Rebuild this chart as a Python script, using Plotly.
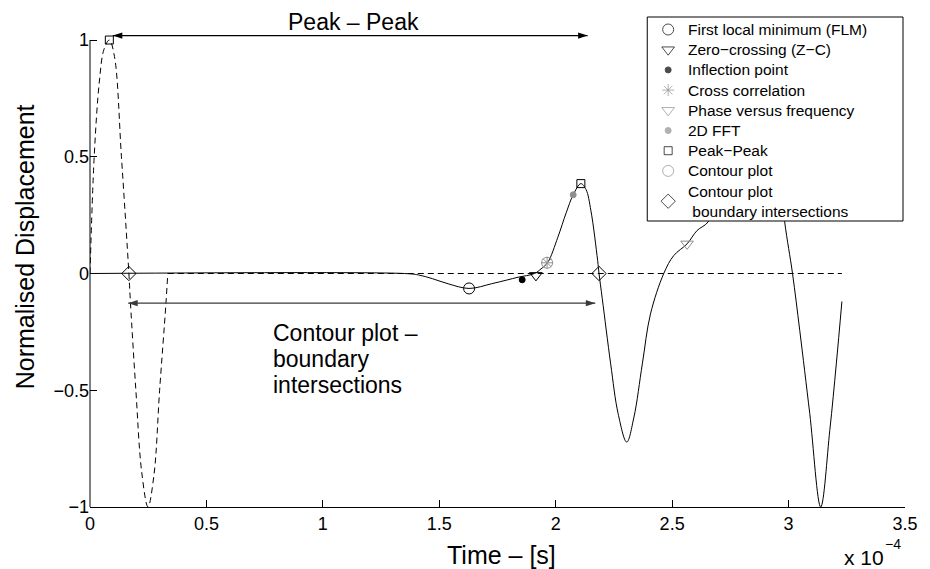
import plotly.graph_objects as go

# ---------------------------------------------------------------- data
# time axis values are in units of 1e-4 s
# incident pulse (dashed): one sine-like cycle, then flat
t_pulse = [0, 0.018, 0.04, 0.06, 0.083, 0.105, 0.135, 0.167, 0.174, 0.197,
           0.222, 0.249, 0.275, 0.299, 0.326, 0.334]
y_pulse = [0, 0.5, 0.82, 0.96, 1.0, 0.93, 0.5, 0.0, -0.13, -0.5,
           -0.85, -1.0, -0.86, -0.5, -0.13, 0.0]
t_pulse_flat = [0.334, 3.229]
y_pulse_flat = [0.0, 0.0]

# received signal (solid)
t_recv = [0, 1.35, 1.41, 1.47, 1.538, 1.628, 1.724, 1.79, 1.838, 1.909,
          1.937, 1.966, 2.009, 2.045, 2.075, 2.108, 2.13, 2.151, 2.18, 2.186,
          2.20, 2.236, 2.268, 2.305, 2.336, 2.372, 2.407, 2.464, 2.507, 2.564,
          2.607, 2.656, 2.72, 2.79, 2.86, 2.93, 2.983, 3.017, 3.048, 3.091,
          3.138, 3.177, 3.205, 3.229]
y_recv = [0, 0, -0.006, -0.022, -0.044, -0.064, -0.044, -0.028, -0.016, 0.0,
          0.02, 0.048, 0.155, 0.26, 0.337, 0.385, 0.36, 0.27, 0.056, 0.0,
          -0.108, -0.387, -0.60, -0.722, -0.615, -0.387, -0.173, 0.0, 0.077, 0.127,
          0.184, 0.223, 0.42, 0.75, 0.9, 0.7, 0.223, 0.0, -0.244, -0.60,
          -1.0, -0.672, -0.387, -0.12]

# arrival-time picks of each method
flm_t, flm_y = [1.628], [-0.064]
zc_t, zc_y = [1.915], [-0.008]
infl_t, infl_y = [1.856], [-0.027]
xcorr_t, xcorr_y = [1.963], [0.046]
phase_t, phase_y = [2.564], [0.127]
fft_t, fft_y = [2.075], [0.337]
pp_t, pp_y = [0.083, 2.108], [1.0, 0.385]
contour_t, contour_y = [1.963], [0.046]
cbi_t, cbi_y = [0.167, 2.186], [0.0, 0.0]

# double-headed arrows spanning the two travel-time estimates
pp_arrow_t, pp_arrow_y = [0.098, 2.137], [1.019, 1.019]
cbi_arrow_t, cbi_arrow_y = [0.164, 2.17], [-0.127, -0.127]

x_ticks = [0, 0.5, 1, 1.5, 2, 2.5, 3, 3.5]
x_ticktext = ["0", "0.5", "1", "1.5", "2", "2.5", "3", "3.5"]
y_ticks = [-1, -0.5, 0, 0.5, 1]
y_ticktext = ["\u22121", "\u22120.5", "0", "0.5", "1"]

# ---------------------------------------------------------------- style
FONT = "Liberation Sans, Arial, Helvetica, sans-serif"
GRAY = "#8f8f8f"
W, H = 930, 569
ML, MR, MT, MB = 90, 21, 12, 62
Y_MIN, Y_MAX = -1.0, 1.12          # headroom above 1 for the Peak-Peak arrow
PW, PH = W - ML - MR, H - MT - MB


def px_x(p):
    return (p - ML) / PW


def px_y(p):
    return (H - MB - p) / PH


fig = go.Figure()

# curves
fig.add_trace(go.Scatter(x=t_recv, y=y_recv, mode="lines", showlegend=False,
                         line=dict(color="black", width=1, shape="spline", smoothing=1.0),
                         hoverinfo="skip"))
fig.add_trace(go.Scatter(x=t_pulse, y=y_pulse, mode="lines", showlegend=False,
                         line=dict(color="black", width=1, dash="6px,4px",
                                   shape="spline", smoothing=1.0),
                         hoverinfo="skip"))
fig.add_trace(go.Scatter(x=t_pulse_flat, y=y_pulse_flat, mode="lines", showlegend=False,
                         line=dict(color="black", width=1, dash="6px,4px"),
                         hoverinfo="skip"))

# arrows
for xs, ys, col in ((pp_arrow_t, pp_arrow_y, "black"), (cbi_arrow_t, cbi_arrow_y, "#3a3a3a")):
    fig.add_trace(go.Scatter(x=xs, y=ys, mode="lines+markers", showlegend=False,
                             line=dict(color=col, width=1.2),
                             marker=dict(symbol="arrow", size=10, color=col,
                                         angle=[-90, 90], angleref="up"),
                             hoverinfo="skip"))

# picks: (legend label lines, t, y, symbol, size, colour)
markers = [
    (["First local minimum (FLM)"], flm_t, flm_y, "circle-open", 11, "black"),
    (["Zero\u2212crossing (Z\u2212C)"], zc_t, zc_y, "triangle-down-open", 11, "black"),
    (["Inflection point"], infl_t, infl_y, "circle", 6, "black"),
    (["Cross correlation"], xcorr_t, xcorr_y, "asterisk-open", 10, GRAY),
    (["Phase versus frequency"], phase_t, phase_y, "triangle-down-open", 11, GRAY),
    (["2D FFT"], fft_t, fft_y, "circle", 6, GRAY),
    (["Peak\u2212Peak"], pp_t, pp_y, "square-open", 8, "black"),
    (["Contour plot"], contour_t, contour_y, "circle-open", 11, GRAY),
    (["Contour plot", "\u00a0boundary intersections"], cbi_t, cbi_y, "diamond-open", 11, "black"),
]
for lines, xs, ys, sym, size, col in markers:
    fig.add_trace(go.Scatter(
        x=xs, y=ys, mode="markers", name=" ".join(lines), showlegend=False, cliponaxis=False,
        marker=dict(symbol=sym, size=size, color=col, line=dict(color=col, width=1))))

# ---------------------------------------------------------------- legend
# drawn on an overlay subplot whose axes run in pixel units, so the box
# (white, covering the curve behind it) sits above the data traces
LEG_L, LEG_R, LEG_T, LEG_B = 650, 907, 17, 221
LEG_SYM_X, LEG_TXT_X = 671, 689
LEG_ROW0, LEG_PITCH = 29.5, 20.2

leg_sym_y = []
annotations = []
row = 0
for lines, *_ in markers:
    rows = [LEG_ROW0 + LEG_PITCH * (row + k) for k in range(len(lines))]
    leg_sym_y.append(sum(rows) / len(rows))
    for text, yrow in zip(lines, rows):
        annotations.append(dict(x=LEG_TXT_X, y=yrow, xref="x2", yref="y2", text=text,
                                showarrow=False, xanchor="left", yanchor="middle",
                                font=dict(family=FONT, size=15.5, color="black")))
    row += len(lines)

fig.add_trace(go.Scatter(
    x=[LEG_L, LEG_R, LEG_R, LEG_L, LEG_L], y=[LEG_T, LEG_T, LEG_B, LEG_B, LEG_T],
    xaxis="x2", yaxis="y2", mode="lines", fill="toself", fillcolor="white",
    line=dict(color="black", width=1), showlegend=False, hoverinfo="skip"))
fig.add_trace(go.Scatter(
    x=[LEG_SYM_X] * len(markers), y=leg_sym_y, xaxis="x2", yaxis="y2",
    mode="markers", showlegend=False, hoverinfo="skip", cliponaxis=False,
    marker=dict(symbol=[m[3] for m in markers], size=[m[4] for m in markers],
                color=[m[5] for m in markers],
                line=dict(color=[m[5] for m in markers], width=1))))

# ---------------------------------------------------------------- text
annotations.append(dict(x=px_x(355), y=px_y(22), xref="paper", yref="paper",
                        text="Peak \u2013 Peak", showarrow=False,
                        font=dict(family=FONT, size=23, color="black"),
                        xanchor="center", yanchor="middle"))
for i, line in enumerate(["Contour plot \u2013", "boundary", "intersections"]):
    annotations.append(dict(x=px_x(272), y=px_y(333 + 26 * i), xref="paper", yref="paper",
                            text=line, showarrow=False,
                            font=dict(family=FONT, size=23, color="black"),
                            xanchor="left", yanchor="middle"))

annotations.append(dict(x=px_x(504), y=px_y(555), xref="paper", yref="paper",
                        text="Time \u2013 [s]", showarrow=False,
                        font=dict(family=FONT, size=25, color="black"),
                        xanchor="center", yanchor="middle"))
annotations.append(dict(x=px_x(25), y=px_y(247), xref="paper", yref="paper",
                        text="Normalised Displacement", showarrow=False, textangle=-90,
                        font=dict(family=FONT, size=25, color="black"),
                        xanchor="center", yanchor="middle"))
# axis multiplier "x 10^-4" (base and exponent side by side)
annotations.append(dict(x=px_x(888), y=px_y(557), xref="paper", yref="paper",
                        text="x 10", showarrow=False, borderpad=0, borderwidth=0,
                        font=dict(family=FONT, size=21, color="black"),
                        xanchor="right", yanchor="middle"))
annotations.append(dict(x=px_x(889), y=px_y(544), xref="paper", yref="paper",
                        text="\u22124", showarrow=False, borderpad=0, borderwidth=0,
                        font=dict(family=FONT, size=14, color="black"),
                        xanchor="left", yanchor="middle"))

# left axis line only up to y = 1
y_top_paper = (1 - Y_MIN) / (Y_MAX - Y_MIN)
shapes = [dict(type="line", xref="paper", yref="paper", x0=0, x1=0, y0=0, y1=y_top_paper,
               line=dict(color="black", width=1))]

fig.update_layout(
    width=W, height=H,
    margin=dict(l=ML, r=MR, t=MT, b=MB, pad=0),
    paper_bgcolor="white", plot_bgcolor="white",
    font=dict(family=FONT, color="black"),
    annotations=annotations, shapes=shapes,
    showlegend=False,
    xaxis=dict(range=[0, 3.5], tickvals=x_ticks, ticktext=x_ticktext,
               ticks="inside", ticklen=7, tickcolor="black", tickwidth=1,
               showline=True, linecolor="black", linewidth=1, mirror=False,
               showgrid=False, zeroline=False,
               tickfont=dict(family=FONT, size=18, color="black")),
    yaxis=dict(range=[Y_MIN, Y_MAX], tickvals=y_ticks, ticktext=y_ticktext,
               ticks="inside", ticklen=7, tickcolor="black", tickwidth=1,
               showline=False, showgrid=False, zeroline=False,
               tickfont=dict(family=FONT, size=18, color="black")),
    xaxis2=dict(overlaying="x", range=[ML, W - MR], visible=False, fixedrange=True),
    yaxis2=dict(overlaying="y", range=[H - MB, MT], visible=False, fixedrange=True),
)

fig.write_html("out.html")
